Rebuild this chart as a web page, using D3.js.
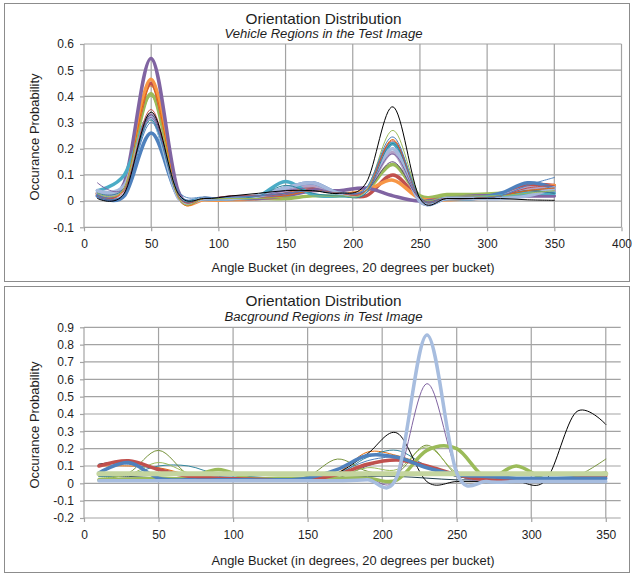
<!DOCTYPE html>
<html>
<head>
<meta charset="utf-8">
<script src="https://cdn.jsdelivr.net/npm/d3@7"></script>
<style>
  body { margin: 0; background: #fff; }
  text { font-family: "Liberation Sans", Arial, sans-serif; fill: #1e1e1e; }
</style>
</head>
<body>
<svg id="chart" width="634" height="575"></svg>
<script>
// Angle buckets (bucket centres, degrees)
const buckets = [10, 30, 50, 70, 90, 110, 130, 150, 170, 190, 210, 230, 250, 270, 290, 310, 330, 350];

// ---- Vehicle regions: one series per region ----
const vehBlack      = [0.010,0.030,0.340,0.030,0.010,0.020,0.030,0.040,0.040,0.030,0.070,0.360,0.010,0.010,0.010,0.010,0.005,0.003];
const vehBlueThin   = [0.020,0.030,0.300,0.040,0.015,0.015,0.020,0.030,0.040,0.030,0.050,0.245,0.010,0.010,0.010,0.020,0.060,0.090];
const vehRedThin    = [0.020,0.040,0.350,0.020,0.010,0.020,0.020,0.030,0.040,0.030,0.040,0.230,0.010,0.010,0.010,0.020,0.050,0.060];
const vehGreenThin  = [0.030,0.050,0.400,0.015,0.010,0.010,0.010,0.015,0.020,0.020,0.040,0.270,0.020,0.020,0.020,0.020,0.030,0.040];
const vehPurpleThin = [0.070,0.050,0.320,0.020,0.010,0.020,0.020,0.040,0.050,0.030,0.040,0.180,0.010,0.010,0.010,0.020,0.040,0.050];
const vehAquaThin   = [0.030,0.050,0.310,0.020,0.010,0.010,0.020,0.060,0.030,0.020,0.030,0.220,0.010,0.010,0.010,0.020,0.040,0.030];
const vehOrangeThin = [0.020,0.050,0.440,0.015,0.010,0.010,0.010,0.020,0.040,0.030,0.040,0.235,0.010,0.010,0.010,0.020,0.040,0.050];
const vehPlumThin   = [0.020,0.030,0.330,0.020,0.010,0.020,0.020,0.030,0.040,0.030,0.040,0.150,0.010,0.010,0.010,0.020,0.040,0.030];
const vehLavender   = [0.030,0.050,0.330,0.015,0.010,0.010,0.020,0.040,0.060,0.030,0.040,0.185,0.005,0.010,0.010,0.020,0.050,0.040];
const vehGreen      = [0.030,0.060,0.410,0.025,0.010,0.010,0.010,0.010,0.020,0.020,0.040,0.140,0.020,0.025,0.025,0.030,0.040,0.040];
const vehRed        = [0.030,0.060,0.450,0.030,0.010,0.010,0.020,0.030,0.050,0.030,0.020,0.100,0.010,0.010,0.010,0.020,0.060,0.060];
const vehOrange     = [0.025,0.060,0.465,0.025,0.005,0.005,0.010,0.020,0.060,0.030,0.040,0.080,0.010,0.005,0.010,0.015,0.040,0.060];
const vehPurple     = [0.020,0.070,0.545,0.040,0.010,0.010,0.010,0.020,0.040,0.040,0.050,0.020,0.000,0.010,0.020,0.020,0.020,0.020];
const vehBlue       = [0.020,0.020,0.260,0.020,0.010,0.010,0.020,0.050,0.070,0.030,0.040,0.220,0.000,0.010,0.010,0.030,0.070,0.050];
const vehAqua       = [0.040,0.100,0.320,0.020,0.010,0.010,0.020,0.075,0.025,0.020,0.040,0.220,0.010,0.010,0.010,0.020,0.030,0.030];
const vehPaleBlue   = [0.040,0.060,0.320,0.015,0.010,0.010,0.020,0.050,0.070,0.030,0.040,0.200,0.000,0.010,0.010,0.010,0.020,0.050];

// ---- Background regions ----
const bgOlive       = [0.055,0.055,0.055,0.055,0.055,0.055,0.055,0.055,0.055,0.055,0.055,0.055,0.055,0.055,0.055,0.055,0.055,0.055];
const bgDark        = [0.040,0.040,0.030,0.020,0.020,0.020,0.020,0.020,0.030,0.040,0.040,0.030,0.020,0.020,0.020,0.020,0.020,0.020];
const bgOrangeThin  = [0.100,0.100,0.090,0.050,0.030,0.030,0.030,0.030,0.060,0.180,0.160,0.100,0.040,0.030,0.030,0.030,0.030,0.030];
const bgBlueThin    = [0.110,0.110,0.080,0.050,0.040,0.030,0.030,0.030,0.060,0.130,0.150,0.100,0.040,0.030,0.030,0.030,0.040,0.040];
const bgTeal        = [0.040,0.050,0.100,0.100,0.050,0.040,0.030,0.030,0.050,0.150,0.190,0.100,0.040,0.030,0.030,0.030,0.030,0.030];
const bgPlumThin    = [0.020,0.030,0.020,0.020,0.020,0.020,0.020,0.020,0.030,0.100,0.140,0.090,0.040,0.020,0.020,0.020,0.020,0.020];
const bgGreenThinA  = [0.020,0.060,0.190,0.050,0.020,0.020,0.020,0.040,0.140,0.070,0.060,0.220,0.050,0.020,0.010,0.020,0.040,0.140];
const bgGreenThinB  = [0.030,0.050,0.120,0.060,0.030,0.020,0.020,0.030,0.040,0.090,0.080,0.210,0.060,0.020,0.020,0.020,0.030,0.050];
const bgBlack       = [0.110,0.120,0.030,0.020,0.020,0.020,0.020,0.025,0.060,0.170,0.290,0.010,0.010,0.010,0.010,0.020,0.410,0.340];
const bgPurpleThin  = [0.020,0.020,0.020,0.020,0.020,0.020,0.020,0.020,0.020,0.030,0.030,0.575,0.080,0.020,0.020,0.020,0.020,0.020];
const bgGreen       = [0.020,0.025,0.030,0.030,0.080,0.030,0.030,0.030,0.030,0.030,0.020,0.190,0.200,0.030,0.100,0.020,0.030,0.060];
const bgRed         = [0.100,0.130,0.080,0.040,0.030,0.025,0.020,0.020,0.050,0.110,0.135,0.100,0.050,0.020,0.020,0.020,0.030,0.045];
const bgBlue        = [0.060,0.120,0.030,0.020,0.020,0.020,0.020,0.030,0.080,0.160,0.150,0.090,0.050,0.040,0.030,0.030,0.030,0.030];
const bgPaleBlue    = [0.015,0.015,0.015,0.015,0.015,0.015,0.015,0.015,0.015,0.020,0.040,0.855,0.060,0.010,0.010,0.010,0.010,0.010];

// Axis ticks
const vehXTicks = [0, 50, 100, 150, 200, 250, 300, 350, 400];
const vehYTicks = [-0.1, 0, 0.1, 0.2, 0.3, 0.4, 0.5, 0.6];
const bgXTicks  = [0, 50, 100, 150, 200, 250, 300, 350];
const bgYTicks  = [-0.2, -0.1, 0, 0.1, 0.2, 0.3, 0.4, 0.5, 0.6, 0.7, 0.8, 0.9];

// Series styling (drawing order: first is underneath)
const vehSeries = [
  { v: vehGreen,      c: "#9bbb59", w: 3.5 },
  { v: vehRed,        c: "#c0504d", w: 3.5 },
  { v: vehOrange,     c: "#f79646", w: 3.5 },
  { v: vehPurple,     c: "#8064a2", w: 3.5 },
  { v: vehLavender,   c: "#b3a2c7", w: 3.5 },
  { v: vehBlue,       c: "#4f81bd", w: 3.5 },
  { v: vehAqua,       c: "#4bacc6", w: 3.5 },
  { v: vehPaleBlue,   c: "#a5b8dc", w: 3.5 },
  { v: vehPlumThin,   c: "#604a7b", w: 1 },
  { v: vehPurpleThin, c: "#8064a2", w: 1 },
  { v: vehAquaThin,   c: "#31859c", w: 1 },
  { v: vehOrangeThin, c: "#e46c0a", w: 1 },
  { v: vehRedThin,    c: "#c0504d", w: 1 },
  { v: vehGreenThin,  c: "#9bbb59", w: 1 },
  { v: vehBlueThin,   c: "#4f81bd", w: 1 },
  { v: vehBlack,      c: "#000000", w: 1 }
];
const bgSeries = [
  { v: bgDark,        c: "#1f3d4d", w: 1 },
  { v: bgOrangeThin,  c: "#e46c0a", w: 1 },
  { v: bgBlueThin,    c: "#4f81bd", w: 1 },
  { v: bgTeal,        c: "#31859c", w: 1 },
  { v: bgPlumThin,    c: "#604a7b", w: 1 },
  { v: bgGreenThinA,  c: "#77933c", w: 1 },
  { v: bgGreenThinB,  c: "#9bbb59", w: 1 },
  { v: bgBlack,       c: "#000000", w: 1 },
  { v: bgPurpleThin,  c: "#8064a2", w: 1 },
  { v: bgGreen,       c: "#9bbb59", w: 3.5 },
  { v: bgRed,         c: "#c0504d", w: 3.5 },
  { v: bgBlue,        c: "#4f81bd", w: 3.5 },
  { v: bgOlive,       c: "#c4d59f", w: 5 },
  { v: bgPaleBlue,    c: "#a7bddf", w: 3.5 }
];

const svg = d3.select("#chart");
const fmtY = v => (Math.abs(v) < 1e-9 ? "0" : String(+v.toFixed(1)));

function drawPanel(cfg) {
  const g = svg.append("g");
  // chart area frame
  g.append("rect")
    .attr("x", cfg.box[0]).attr("y", cfg.box[1])
    .attr("width", cfg.box[2]).attr("height", cfg.box[3])
    .attr("fill", "#fff").attr("stroke", "#8c8c8c").attr("stroke-width", 1);

  const x = d3.scaleLinear().domain(cfg.xDomain).range([cfg.plot.left, cfg.plot.right]);
  const y = d3.scaleLinear().domain(cfg.yDomain).range([cfg.plot.bottom, cfg.plot.top]);

  // gridlines
  const grid = g.append("g").attr("stroke", "#a3a3a3").attr("stroke-width", 1.2);
  grid.selectAll("line.h").data(cfg.yTicks).join("line")
    .attr("x1", cfg.plot.left).attr("x2", cfg.plot.right)
    .attr("y1", d => y(d)).attr("y2", d => y(d));
  grid.selectAll("line.v").data(cfg.xTicks).join("line")
    .attr("x1", d => x(d)).attr("x2", d => x(d))
    .attr("y1", cfg.plot.top).attr("y2", cfg.plot.bottom);

  // axes (ticks + labels)
  const ax = g.append("g").attr("transform", `translate(0,${cfg.plot.bottom})`)
    .call(d3.axisBottom(x).tickValues(cfg.xTicks).tickSize(4).tickPadding(8).tickFormat(d3.format("d")));
  const ay = g.append("g").attr("transform", `translate(${cfg.plot.left},0)`)
    .call(d3.axisLeft(y).tickValues(cfg.yTicks).tickSize(4).tickPadding(6).tickFormat(fmtY));
  [ax, ay].forEach(a => {
    a.select(".domain").remove();
    a.selectAll(".tick line").attr("stroke", "#a3a3a3").attr("stroke-width", 1.2);
    a.selectAll(".tick text").attr("font-size", 12).attr("fill", "#1e1e1e")
      .style("font-family", '"Liberation Sans", Arial, sans-serif');
  });

  // series lines (Excel-like smoothing)
  const line = d3.line()
    .x((d, i) => x(buckets[i]))
    .y(d => y(d))
    .curve(d3.curveCatmullRom.alpha(0));
  g.append("g").attr("fill", "none").attr("stroke-linejoin", "round").attr("stroke-linecap", "round")
    .selectAll("path").data(cfg.series).join("path")
    .attr("d", s => line(s.v))
    .attr("stroke", s => s.c)
    .attr("stroke-width", s => s.w);

  // titles
  g.append("text").attr("x", cfg.cx).attr("y", cfg.titleY)
    .attr("text-anchor", "middle").attr("font-size", 14.5)
    .attr("textLength", 156).attr("lengthAdjust", "spacingAndGlyphs")
    .text(cfg.title);
  g.append("text").attr("x", cfg.cx).attr("y", cfg.subY)
    .attr("text-anchor", "middle").attr("font-size", 12.5).attr("font-style", "italic")
    .attr("textLength", 198).attr("lengthAdjust", "spacingAndGlyphs")
    .text(cfg.subtitle);
  g.append("text").attr("x", 353).attr("y", cfg.xTitleY)
    .attr("text-anchor", "middle").attr("font-size", 13)
    .attr("textLength", 283).attr("lengthAdjust", "spacingAndGlyphs")
    .text("Angle Bucket  (in degrees, 20 degrees per bucket)");
  g.append("text")
    .attr("transform", `translate(39,${cfg.yTitleY}) rotate(-90)`)
    .attr("text-anchor", "middle").attr("font-size", 13)
    .attr("textLength", 127).attr("lengthAdjust", "spacingAndGlyphs")
    .text("Occurance Probability");
}

drawPanel({
  box: [4.5, 3.5, 625, 278],
  plot: { left: 84, right: 621.5, top: 44, bottom: 227.3 },
  xDomain: [0, 400], yDomain: [-0.1, 0.6],
  xTicks: vehXTicks, yTicks: vehYTicks,
  series: vehSeries,
  cx: 323.5, titleY: 24, subY: 37.5, xTitleY: 272, yTitleY: 137,
  title: "Orientation Distribution",
  subtitle: "Vehicle Regions in the Test Image"
});

drawPanel({
  box: [4.5, 286.5, 625, 286],
  plot: { left: 84, right: 620.7, top: 327.3, bottom: 518 },
  xDomain: [0, 360], yDomain: [-0.2, 0.9],
  xTicks: bgXTicks, yTicks: bgYTicks,
  series: bgSeries,
  cx: 323.5, titleY: 306, subY: 320.5, xTitleY: 564.5, yTitleY: 425,
  title: "Orientation Distribution",
  subtitle: "Bacground Regions in Test  Image"
});
</script>
</body>
</html>
